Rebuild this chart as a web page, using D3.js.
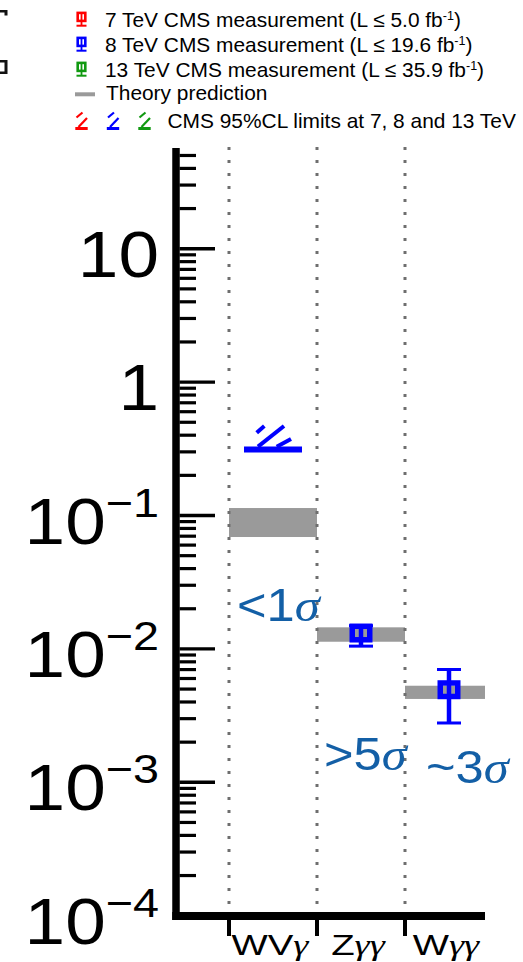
<!DOCTYPE html>
<html>
<head>
<meta charset="utf-8">
<script src="https://cdn.jsdelivr.net/npm/d3@7"></script>
<style>
  html, body { margin: 0; padding: 0; background: #fff; }
  svg { display: block; }
</style>
</head>
<body>
<svg id="chart" width="523" height="962"></svg>
<script>
// ---- data -------------------------------------------------------------
const categories = ["WVγ", "Zγγ", "Wγγ"];

// theory prediction bands (cross section ratio, low/high edge)
const theoryLow  = [0.0684, 0.01122, 0.00418];
const theoryHigh = [0.1128, 0.01439, 0.00525];

// 8 TeV measurements
const meas8Category = ["Zγγ", "Wγγ"];
const meas8Value    = [0.01304, 0.0049];
const meas8Low      = [0.0104, 0.00276];
const meas8High     = [0.0148, 0.00695];

// 8 TeV 95% CL upper limits
const limit8Category = ["WVγ"];
const limit8Value    = [0.31];

// observed significance per channel
const significanceText = ["<1σ", ">5σ", "~3σ"];
const significanceAt   = [0.01615, 0.001227, 0.00098];

// y axis labels
const yTickValues   = [10, 1, 0.1, 0.01, 0.001, 0.0001];
const yTickMantissa = ["10", "1", "10", "10", "10", "10"];
const yTickExponent = ["", "", "−1", "−2", "−3", "−4"];

// legend
const legendMeasText  = ["7 TeV CMS measurement (L ≤ 5.0 fb",
                         "8 TeV CMS measurement (L ≤ 19.6 fb",
                         "13 TeV CMS measurement (L ≤ 35.9 fb"];
const legendMeasColor = ["#ff0000", "#0000ff", "#119911"];
const legendTheoryText = "Theory prediction";
const legendLimitText  = "CMS 95%CL limits at 7, 8 and 13 TeV";

// ---- layout -----------------------------------------------------------
const SANS = "'Liberation Sans', Arial, Helvetica, sans-serif";
const SERIF = "'Liberation Serif', 'Times New Roman', serif";
const LABEL_STRETCH = 1.14;    // wide y-axis lettering
const CAT_STRETCH = 1.28;      // wide channel names
const plotTop = 148, plotBottom = 916, plotRight = 485, axisX = 176;
const sigColor = "#135fa6";
const bandGray = "#9a9a9a";
const measColor = "#0000ff";
const LEG_FS = 20.9;

const svg = d3.select("#chart");

const y = d3.scaleLog().domain([1e-4, 56.4]).range([915.2, plotTop]);
const x = d3.scaleBand().domain(categories).range([229, 493]).paddingInner(0).paddingOuter(0);
const bw = x.bandwidth();

svg.append("defs").append("clipPath").attr("id", "plotClip")
  .append("rect").attr("x", axisX).attr("y", plotTop)
  .attr("width", plotRight - axisX).attr("height", plotBottom - plotTop);

// fragments of neighbouring frame at the top left
svg.append("path")
  .attr("d", "M0,10H7.5V15.5H4.5V12.5H0Z M0,60H7.5V74H0V71.5H4.5V62.5H0Z")
  .attr("fill", "#111");

// ---- theory bands ------------------------------------------------------
const plot = svg.append("g").attr("clip-path", "url(#plotClip)");
plot.selectAll("rect.theory")
  .data(categories)
  .join("rect")
  .attr("class", "theory")
  .attr("x", d => x(d))
  .attr("width", bw)
  .attr("y", (d, i) => y(theoryHigh[i]))
  .attr("height", (d, i) => y(theoryLow[i]) - y(theoryHigh[i]))
  .attr("fill", bandGray);

// dotted channel separators
svg.selectAll("line.sep")
  .data(categories)
  .join("line")
  .attr("class", "sep")
  .attr("x1", d => x(d)).attr("x2", d => x(d))
  .attr("y1", plotTop - 1).attr("y2", plotBottom - 4)
  .attr("stroke", "#6e6e6e")
  .attr("stroke-width", 3)
  .attr("stroke-dasharray", "3,10");

// ---- measurements ------------------------------------------------------
const mg = svg.append("g");
meas8Category.forEach((c, i) => {
  const cx = x(c) + bw / 2;
  const yHi = y(meas8High[i]), yLo = y(meas8Low[i]), yc = y(meas8Value[i]);
  mg.append("line").attr("x1", cx).attr("x2", cx).attr("y1", yHi).attr("y2", yLo)
    .attr("stroke", measColor).attr("stroke-width", 4.5);
  [yHi, yLo].forEach(yy => {
    mg.append("line").attr("x1", cx - 12).attr("x2", cx + 12).attr("y1", yy).attr("y2", yy)
      .attr("stroke", measColor).attr("stroke-width", 3);
  });
  mg.append("rect")
    .attr("x", cx - 8.75).attr("y", yc - 6.75)
    .attr("width", 17.5).attr("height", 13.5)
    .attr("fill", "none").attr("stroke", measColor).attr("stroke-width", 5.5);
});

// ---- limits --------------------------------------------------------------
// hatched limit symbol: base bar plus parallel slashes, given in local units
function limitGlyph(g, cx, cy, color, halfW, segs, lw, bh) {
  g.append("line").attr("x1", cx - halfW).attr("x2", cx + halfW)
    .attr("y1", cy).attr("y2", cy).attr("stroke", color).attr("stroke-width", bh);
  segs.forEach(s4 => {
    g.append("line")
      .attr("x1", cx + s4[0]).attr("y1", cy + s4[1])
      .attr("x2", cx + s4[2]).attr("y2", cy + s4[3])
      .attr("stroke", color).attr("stroke-width", lw);
  });
}
const bigSegs = [[-16.3, -16.8, -8.7, -23.5], [-15, -2.8, 11, -23.5], [3.7, -2.8, 18, -10.5]];
const smallSegs = [[-5, -11, 1, -16], [-3, -1.5, 5.5, -10.5]];
limit8Category.forEach((c, i) => {
  limitGlyph(svg.append("g"), x(c) + bw / 2, y(limit8Value[i]), measColor, 29, bigSegs, 4, 6);
});

// ---- significance labels ------------------------------------------------
const sigDx = [8, 7, 21];
categories.forEach((c, i) => {
  const t = svg.append("text")
    .attr("transform", `translate(${x(c) + sigDx[i]},${y(significanceAt[i])}) scale(1.1,1)`)
    .attr("fill", sigColor)
    .attr("font-family", SANS)
    .attr("font-size", 46);
  t.append("tspan").text(significanceText[i].slice(0, -1));
  t.append("tspan").attr("font-family", SERIF).attr("font-style", "italic")
    .text(significanceText[i].slice(-1));
});

// ---- axes ---------------------------------------------------------------
const axG = svg.append("g");
const minorTicks = y.ticks().filter(v => Math.abs(Math.log10(v) - Math.round(Math.log10(v))) > 1e-6);
axG.append("g")
  .attr("transform", `translate(${axisX + 3.5},0)`)
  .call(d3.axisRight(y).tickValues(minorTicks).tickSize(16.5).tickFormat(""))
  .call(g => g.select(".domain").remove())
  .call(g => g.selectAll(".tick line").attr("stroke", "#000").attr("stroke-width", 3.2));
axG.append("g")
  .attr("transform", `translate(${axisX + 3.5},0)`)
  .call(d3.axisRight(y).tickValues(yTickValues).tickSize(35.5).tickFormat(""))
  .call(g => g.select(".domain").remove())
  .call(g => g.selectAll(".tick line").attr("stroke", "#000").attr("stroke-width", 3.4));

// axis lines
axG.append("line").attr("x1", axisX).attr("x2", axisX).attr("y1", plotTop).attr("y2", plotBottom + 4)
  .attr("stroke", "#000").attr("stroke-width", 7.5);
axG.append("line").attr("x1", axisX - 3.75).attr("x2", plotRight).attr("y1", plotBottom).attr("y2", plotBottom)
  .attr("stroke", "#000").attr("stroke-width", 8);

// bin edge ticks below the x axis
axG.selectAll("line.xtick")
  .data(categories)
  .join("line")
  .attr("class", "xtick")
  .attr("x1", d => x(d)).attr("x2", d => x(d))
  .attr("y1", plotBottom + 4).attr("y2", plotBottom + 20)
  .attr("stroke", "#000").attr("stroke-width", 4);

// y labels
yTickValues.forEach((v, i) => {
  const t = axG.append("text")
    .attr("transform", `translate(159,${y(v) + 28.5}) scale(${LABEL_STRETCH},1)`)
    .attr("text-anchor", "end")
    .attr("font-family", SANS)
    .attr("font-size", 64)
    .attr("fill", "#000");
  t.append("tspan").text(yTickMantissa[i]);
  if (yTickExponent[i]) {
    t.append("tspan").attr("font-size", 41).attr("dy", -27).text(yTickExponent[i]);
  }
});

// category labels
categories.forEach(c => {
  const t = axG.append("text")
    .attr("transform", `translate(${x(c) + bw / 2 - 3},955) scale(${CAT_STRETCH},1)`)
    .attr("text-anchor", "middle")
    .attr("font-family", SANS)
    .attr("font-size", 30)
    .attr("fill", "#000");
  const head = c.replace(/γ/g, "");
  const tail = c.slice(head.length);
  t.append("tspan").text(head);
  t.append("tspan").attr("font-family", SERIF).attr("font-style", "italic").text(tail);
});

// ---- legend -------------------------------------------------------------
const lg = svg.append("g");
const rowBase = [26.7, 51.7, 76.7];
legendMeasText.forEach((txt, i) => {
  const cx = 81.5, cy = rowBase[i] - 9.5, col = legendMeasColor[i];
  lg.append("line").attr("x1", cx).attr("x2", cx).attr("y1", cy - 4).attr("y2", cy + 8.5)
    .attr("stroke", col).attr("stroke-width", 1.8);
  lg.append("line").attr("x1", cx - 5).attr("x2", cx + 5).attr("y1", cy + 8.5).attr("y2", cy + 8.5)
    .attr("stroke", col).attr("stroke-width", 2);
  lg.append("rect").attr("x", cx - 3.8).attr("y", cy - 4.3).attr("width", 7.6).attr("height", 8)
    .attr("fill", "none").attr("stroke", col).attr("stroke-width", 2.6);
  const t = lg.append("text").attr("x", 105).attr("y", rowBase[i])
    .attr("font-family", SANS).attr("font-size", LEG_FS).attr("fill", "#000");
  t.append("tspan").text(txt);
  t.append("tspan").attr("font-size", 12.5).attr("dy", -7).text("-1");
  t.append("tspan").attr("dy", 7).text(")");
});
lg.append("line").attr("x1", 75).attr("x2", 95).attr("y1", 94.3).attr("y2", 94.3)
  .attr("stroke", bandGray).attr("stroke-width", 4);
lg.append("text").attr("x", 106).attr("y", 99.5)
  .attr("font-family", SANS).attr("font-size", LEG_FS).attr("fill", "#000").text(legendTheoryText);
legendMeasColor.forEach((col, i) => {
  limitGlyph(lg, 81.5 + i * 31.5, 128.5, col, 6.2, smallSegs, 2.2, 3);
});
lg.append("text").attr("x", 167.5).attr("y", 128.3)
  .attr("font-family", SANS).attr("font-size", LEG_FS).attr("fill", "#000").text(legendLimitText);
</script>
</body>
</html>
